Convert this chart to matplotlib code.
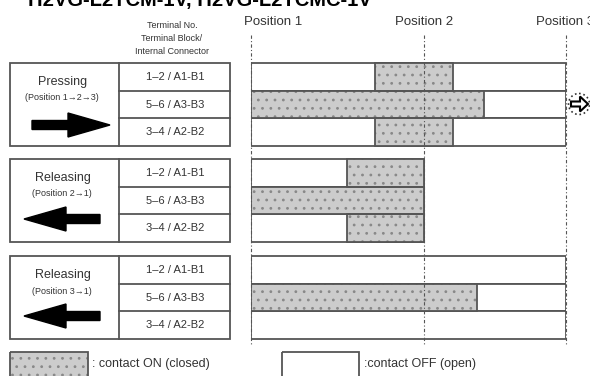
import matplotlib.pyplot as plt
from matplotlib.patches import Rectangle, FancyArrow, Circle

plt.rcParams['font.family'] = ['Liberation Sans', 'DejaVu Sans']
plt.rcParams['hatch.linewidth'] = 0.8

# chart content
title = "H2VG-L2TCM-1V, H2VG-L2TCMC-1V"
positions = ["Position 1", "Position 2", "Position 3"]
position_stroke = [0.0, 1.0, 1.82]
header = ["Terminal No.", "Terminal Block/", "Internal Connector"]
actions = ["Pressing", "Releasing", "Releasing"]
action_notes = ["(Position 1\u21922\u21923)", "(Position 2\u21921)", "(Position 3\u21921)"]
directions = [1, -1, -1]
terminals = ["1\u20132 / A1-B1", "5\u20136 / A3-B3", "3\u20134 / A2-B2"]
stroke_end = [1.82, 1.0, 1.82]
on_start = [[0.72, 0.0, 0.72], [0.555, 0.0, 0.555], [None, 0.0, None]]
on_end = [[1.17, 1.346, 1.17], [1.0, 1.0, 1.0], [None, 1.31, None]]
legend_labels = [": contact ON (closed)", ":contact OFF (open)"]

edge = '#555555'
grey = '#cccccc'
dots = '#888888'
txt = '#333333'

group_top = [63, 159, 256]
row_h = 27.7

fig = plt.figure(figsize=(5.9, 3.76), dpi=100)

# layout axes in pixel units
ax = fig.add_axes([0, 0, 1, 1])
ax.set_xlim(0, 590)
ax.set_ylim(376, 0)
ax.axis('off')

# bar axes: x in stroke units
x0, x1 = 250.7, 565.5
bx = fig.add_axes([x0 / 590, 0, (x1 - x0) / 590, 1])
bx.set_xlim(0, position_stroke[-1])
bx.set_ylim(376, 0)
bx.axis('off')
bx.patch.set_alpha(0)

fig.text(28 / 590, 1 - 6 / 376, title, fontsize=14.5, fontweight='bold', va='baseline')

# column header
for i, line in enumerate(header):
    ax.text(172, 25 + i * 13.5, line, fontsize=6.5, ha='center', va='center', color=txt)

for g, top in enumerate(group_top):
    # left table
    ax.add_patch(Rectangle((10, top), 220, 3 * row_h, fill=False, ec=edge, lw=1.3))
    ax.plot([119, 119], [top, top + 3 * row_h], color=edge, lw=1.3)
    for r in range(1, 3):
        ax.plot([119, 230], [top + r * row_h, top + r * row_h], color=edge, lw=1.3)
    for r, t in enumerate(terminals):
        ax.text(175, top + (r + 0.5) * row_h, t, fontsize=8, ha='center', va='center',
                color=txt)
    ax.text(63, top + 19, actions[g], fontsize=9, ha='center', va='center', color=txt)
    ax.text(62, top + 35, action_notes[g], fontsize=6.5, ha='center', va='center',
            color=txt)
    if directions[g] > 0:
        ax.add_patch(FancyArrow(32, top + 62, 78, 0, width=9, head_width=24, head_length=42,
                                length_includes_head=True, color='black'))
    else:
        ax.add_patch(FancyArrow(100, top + 60, -76, 0, width=9, head_width=24, head_length=42,
                                length_includes_head=True, color='black'))

    # contact bars
    for r in range(3):
        y = top + r * row_h
        bx.barh(y, stroke_end[g], left=0, height=row_h, align='edge', color='white',
                edgecolor=edge, lw=1.3, zorder=2)
        s, e = on_start[g][r], on_end[g][r]
        if s is not None:
            bx.barh(y, e - s, left=s, height=row_h, align='edge', color=grey,
                    edgecolor=dots, hatch='..', lw=0, zorder=3)
            bx.barh(y, e - s, left=s, height=row_h, align='edge', fill=False,
                    edgecolor=edge, lw=1.3, zorder=4)

# position lines and labels
bx.vlines(position_stroke, 35, 346, colors='#555555', linestyles=(0, (3, 2, 1, 2)),
          lw=0.8, zorder=5, clip_on=False)
label_shift = [22, 0, 0]
for p, name, dx in zip(position_stroke, positions, label_shift):
    bx.annotate(name, (p, 22), xytext=(dx, 0), textcoords='offset pixels', fontsize=9.5,
                ha='center', va='center', color=txt, annotation_clip=False)

# ring icon at right
ax.add_patch(Circle((579, 104), 10.5, fill=False, ec='#333333', lw=1.2, ls=':'))
ax.add_patch(FancyArrow(571, 104, 17, 0, width=5, head_width=15, head_length=8,
                        length_includes_head=True, fc='white', ec='black', lw=1.5))

# legend
ax.add_patch(Rectangle((10, 352), 78, 26, color=grey, ec=dots, hatch='..', lw=0))
ax.add_patch(Rectangle((10, 352), 78, 26, fill=False, ec=edge, lw=1.3))
ax.text(92, 364, legend_labels[0], fontsize=9, va='center', color=txt)
ax.add_patch(Rectangle((282, 352), 77, 26, fill=False, ec=edge, lw=1.3))
ax.text(364, 364, legend_labels[1], fontsize=9, va='center', color=txt)

fig.savefig('out.png', dpi=100)
